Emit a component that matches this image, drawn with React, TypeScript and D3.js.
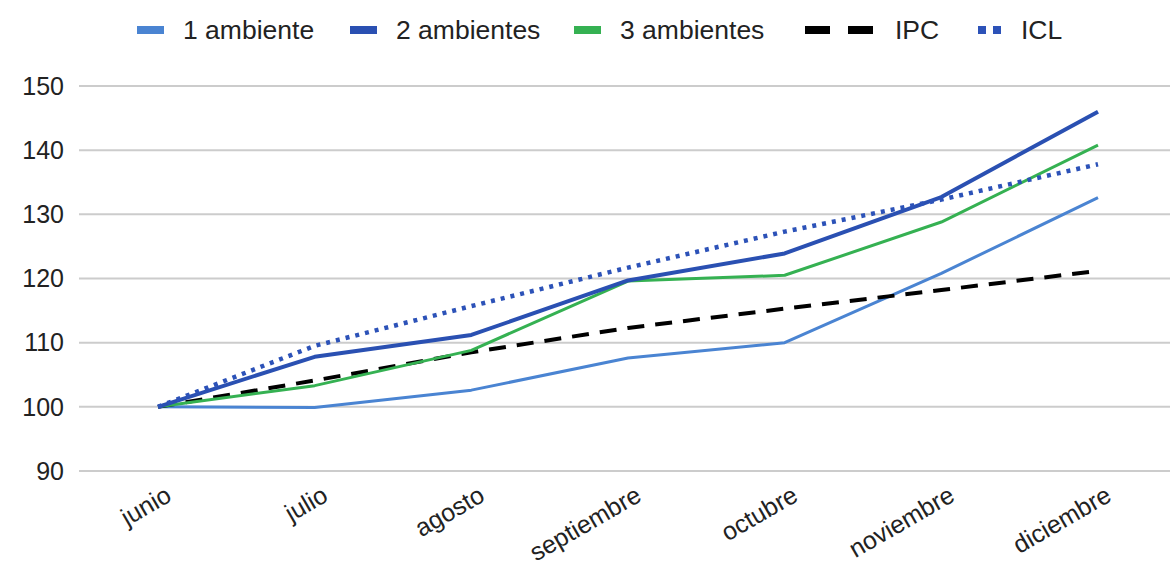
import React from "react";
import * as d3 from "d3";

const months = ["junio", "julio", "agosto", "septiembre", "octubre", "noviembre", "diciembre"];
const unAmbiente = [100, 99.9, 102.6, 107.6, 110.0, 120.8, 132.6];
const dosAmbientes = [100, 107.8, 111.2, 119.7, 123.9, 132.7, 146.0];
const tresAmbientes = [100, 103.3, 108.8, 119.6, 120.5, 128.8, 140.8];
const ipc = [100, 104.1, 108.5, 112.3, 115.3, 118.2, 121.2];
const icl = [100, 109.5, 115.7, 121.7, 127.3, 132.3, 137.8];
const yTicks = [90, 100, 110, 120, 130, 140, 150];

type Series = {
  name: string;
  values: number[];
  color: string;
  width: number;
  dash?: string;
};

const series: Series[] = [
  { name: "1 ambiente", values: unAmbiente, color: "#4a84d2", width: 3 },
  { name: "2 ambientes", values: dosAmbientes, color: "#2a50b2", width: 4 },
  { name: "3 ambientes", values: tresAmbientes, color: "#35b152", width: 3 },
  { name: "IPC", values: ipc, color: "#000000", width: 4, dash: "17,11" },
  { name: "ICL", values: icl, color: "#2c52b8", width: 4.5, dash: "4,6" },
];

// draw order: back to front
const drawOrder = ["1 ambiente", "IPC", "3 ambientes", "2 ambientes", "ICL"];

const W = 1170;
const H = 567;
const FONT = "'Liberation Sans', Arial, sans-serif";

export default function App() {
  const x = d3.scalePoint<string>().domain(months).range([158, 1098]);
  const y = d3.scaleLinear().domain([90, 150]).range([471, 86]);
  const line = d3
    .line<number>()
    .x((_, i) => x(months[i]) as number)
    .y((v) => y(v));

  const legendItems = [
    { s: series[0], sx: 137, tx: 183 },
    { s: series[1], sx: 350, tx: 396 },
    { s: series[2], sx: 574, tx: 620 },
    { s: series[3], sx: 805, tx: 895 },
    { s: series[4], sx: 978, tx: 1021 },
  ];
  const ly = 30;

  return (
    <svg
      width={W}
      height={H}
      style={{ position: "absolute", left: 0, top: 0, background: "#fff" }}
      fontFamily={FONT}
    >
      {/* gridlines and y labels */}
      {yTicks.map((t) => (
        <g key={t}>
          <line x1={79} x2={W} y1={y(t)} y2={y(t)} stroke="#cccccc" strokeWidth={2} />
          <text x={64} y={y(t)} dy="0.35em" textAnchor="end" fontSize={25} fill="#222">
            {t}
          </text>
        </g>
      ))}

      {/* x labels, rotated */}
      {months.map((m) => (
        <text
          key={m}
          transform={`translate(${(x(m) as number) + 15},${500}) rotate(-30)`}
          textAnchor="end"
          fontSize={25}
          fill="#222"
        >
          {m}
        </text>
      ))}

      {/* series lines */}
      {drawOrder.map((n) => {
        const s = series.find((d) => d.name === n)!;
        return (
          <path
            key={n}
            d={line(s.values) ?? ""}
            fill="none"
            stroke={s.color}
            strokeWidth={s.width}
            strokeDasharray={s.dash}
            strokeLinejoin="round"
          />
        );
      })}

      {/* legend */}
      {legendItems.map(({ s, sx, tx }) => (
        <g key={s.name}>
          {s.name === "IPC" ? (
            <>
              <rect x={sx} y={ly - 4} width={25} height={8} fill={s.color} />
              <rect x={sx + 43} y={ly - 4} width={25} height={8} fill={s.color} />
            </>
          ) : s.name === "ICL" ? (
            <>
              <rect x={sx} y={ly - 4} width={8} height={8} fill={s.color} />
              <rect x={sx + 15} y={ly - 4} width={8} height={8} fill={s.color} />
            </>
          ) : (
            <rect x={sx} y={ly - 4} width={27} height={8} fill={s.color} />
          )}
          <text x={tx} y={ly} dy="0.35em" fontSize={26.5} fill="#222">
            {s.name}
          </text>
        </g>
      ))}
    </svg>
  );
}
